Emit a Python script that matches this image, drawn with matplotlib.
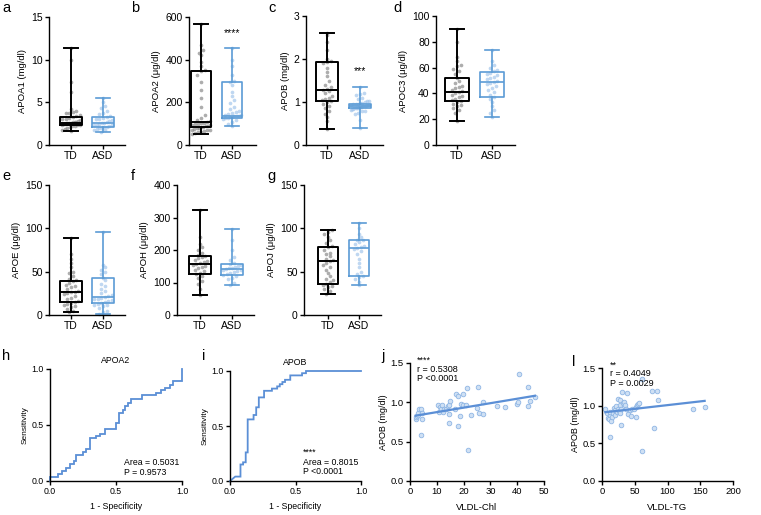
import numpy as np
import matplotlib
matplotlib.use("Agg")
import matplotlib.pyplot as plt

plt.rcParams["font.family"] = ["Liberation Sans", "DejaVu Sans"]

W, H = 761, 515
TD_EDGE = "black"
ASD_EDGE = "#5b9bd5"
TD_DOT = "#8a8a8a"
ASD_DOT = "#a4c6ec"
LINE = "#5b8fd6"

groups = ["TD", "ASD"]

# ---- box plot panels: summary stats (min, q1, median, q3, max) and points ----
apoa1_td_stats = [1.64, 2.31, 2.62, 3.33, 11.36]
apoa1_asd_stats = [1.53, 2.15, 2.62, 3.25, 5.56]
apoa1_td = [1.64, 1.8, 1.9, 2.0, 2.1, 2.2, 2.25, 2.3, 2.32, 2.4, 2.45, 2.5, 2.55, 2.6,
            2.62, 2.65, 2.7, 2.75, 2.8, 2.9, 3.0, 3.1, 3.2, 3.3, 3.35, 3.5, 3.7, 3.8,
            3.9, 4.0, 4.2, 6.2, 7.4, 10.0, 11.36]
apoa1_asd = [1.53, 1.7, 1.8, 1.9, 2.0, 2.05, 2.1, 2.15, 2.2, 2.3, 2.35, 2.4, 2.5, 2.55,
             2.62, 2.7, 2.8, 2.9, 3.0, 3.1, 3.2, 3.25, 3.4, 3.6, 3.8, 4.0, 4.3, 4.6, 5.0, 5.56]

apoa2_td_stats = [50, 83, 109, 347, 567]
apoa2_asd_stats = [90, 128, 137, 294, 453]
apoa2_td = [50, 55, 60, 62, 65, 68, 70, 72, 75, 78, 80, 83, 85, 88, 90, 92, 95, 98, 100,
            103, 105, 109, 112, 118, 125, 140, 180, 220, 260, 295, 330, 345, 350, 370,
            390, 420, 430, 445, 470, 567]
apoa2_asd = [90, 100, 110, 115, 120, 125, 128, 130, 132, 135, 137, 138, 140, 142, 145,
             150, 155, 160, 170, 180, 195, 210, 230, 250, 280, 294, 300, 330, 370, 400, 453]

apob_td_stats = [0.37, 1.02, 1.28, 1.92, 2.6]
apob_asd_stats = [0.40, 0.87, 0.91, 0.95, 1.36]
apob_td = [0.37, 0.55, 0.65, 0.72, 0.8, 0.85, 0.9, 0.95, 1.0, 1.02, 1.05, 1.08, 1.1, 1.15,
           1.2, 1.25, 1.28, 1.3, 1.35, 1.4, 1.5, 1.6, 1.7, 1.8, 1.9, 1.92, 1.95, 2.0, 2.2,
           2.4, 2.55, 2.6]
apob_asd = [0.40, 0.58, 0.71, 0.74, 0.79, 0.8, 0.82, 0.83, 0.84, 0.85, 0.86, 0.87, 0.87,
            0.88, 0.88, 0.89, 0.9, 0.9, 0.91, 0.91, 0.92, 0.92, 0.93, 0.94, 0.95, 0.95,
            0.96, 0.97, 0.98, 1.0, 1.02, 1.03, 1.07, 1.1, 1.17, 1.19, 1.2, 1.36]

apoc3_td_stats = [18.9, 34.1, 40.8, 51.7, 90]
apoc3_asd_stats = [22, 37.5, 48.6, 56.8, 73.6]
apoc3_td = [18.9, 25, 27, 29, 30, 31, 32, 33, 34, 35, 36, 37, 38, 39, 40, 41, 42, 43, 44,
            45, 46, 48, 50, 52, 55, 57, 59, 61, 62, 65, 68, 80, 90]
apoc3_asd = [22, 25, 27, 30, 33, 36, 37.5, 39, 41, 43, 44, 46, 47, 48, 49, 50, 51, 52, 53,
             54, 55, 56, 57, 58, 60, 62, 65, 73.6]

apoe_td_stats = [3, 15.4, 26.9, 39.6, 88.5]
apoe_asd_stats = [1.2, 14.2, 21.2, 42.3, 95.4]
apoe_td = [3, 5, 7, 9, 10, 12, 13, 14, 15, 16, 18, 20, 22, 24, 25, 26, 27, 28, 30, 32, 34,
           35, 37, 39, 40, 42, 45, 48, 50, 55, 60, 65, 70, 88.5]
apoe_asd = [1.2, 3, 5, 8, 10, 11, 12, 13, 14, 15, 16, 17, 18, 19, 20, 21, 22, 23, 25, 28,
            30, 33, 36, 40, 43, 47, 50, 52, 55, 58, 95.4]

apoh_td_stats = [63, 126, 157, 181, 323]
apoh_asd_stats = [93, 124, 142, 156, 264]
apoh_td = [63, 80, 95, 105, 115, 120, 125, 130, 135, 140, 145, 148, 152, 155, 158, 160,
           163, 166, 170, 175, 178, 182, 185, 190, 200, 210, 220, 240, 323]
apoh_asd = [93, 100, 110, 115, 120, 124, 127, 130, 133, 136, 138, 140, 142, 144, 146, 148,
            150, 153, 156, 160, 170, 180, 200, 230, 264]

apoj_td_stats = [23.8, 35.8, 62.7, 78, 98]
apoj_asd_stats = [34.6, 45, 76.9, 86.5, 106.5]
apoj_td = [23.8, 28, 30, 32, 34, 35, 36, 38, 40, 42, 45, 48, 52, 55, 58, 60, 62, 63, 65,
           68, 70, 72, 75, 78, 80, 83, 86, 90, 93, 96, 98]
apoj_asd = [34.6, 38, 42, 44, 45, 47, 50, 55, 60, 65, 70, 74, 76, 77, 78, 80, 82, 84, 86,
            87, 90, 94, 100, 106.5]

# ---- ROC curves (step vertices) ----
apoa2_fpr = [0.0, 0.0, 0.06, 0.06, 0.09, 0.09, 0.12, 0.12, 0.15, 0.15, 0.18, 0.18, 0.2,
             0.2, 0.25, 0.25, 0.27, 0.27, 0.3, 0.3, 0.35, 0.35, 0.38, 0.38, 0.42, 0.42,
             0.5, 0.5, 0.52, 0.52, 0.55, 0.55, 0.57, 0.57, 0.59, 0.59, 0.61, 0.61, 0.7,
             0.7, 0.8, 0.8, 0.84, 0.84, 0.87, 0.87, 0.91, 0.91, 0.93, 0.93, 1.0, 1.0]
apoa2_tpr = [0.0, 0.04, 0.04, 0.06, 0.06, 0.09, 0.09, 0.12, 0.12, 0.15, 0.15, 0.18, 0.18,
             0.23, 0.23, 0.26, 0.26, 0.29, 0.29, 0.38, 0.38, 0.4, 0.4, 0.42, 0.42, 0.46,
             0.46, 0.52, 0.52, 0.61, 0.61, 0.63, 0.63, 0.67, 0.67, 0.70, 0.70, 0.73, 0.73,
             0.77, 0.77, 0.79, 0.79, 0.81, 0.81, 0.83, 0.83, 0.86, 0.86, 0.89, 0.89, 1.0]
apob_fpr = [0.0, 0.04, 0.08, 0.08, 0.1, 0.1, 0.12, 0.12, 0.135, 0.135, 0.18, 0.18, 0.2,
            0.2, 0.22, 0.22, 0.26, 0.26, 0.32, 0.32, 0.36, 0.36, 0.38, 0.38, 0.4, 0.4,
            0.42, 0.42, 0.46, 0.46, 0.55, 0.55, 0.58, 0.58, 1.0]
apob_tpr = [0.0, 0.04, 0.04, 0.15, 0.15, 0.17, 0.17, 0.26, 0.26, 0.56, 0.56, 0.6, 0.6,
            0.67, 0.67, 0.76, 0.76, 0.82, 0.82, 0.84, 0.84, 0.86, 0.86, 0.88, 0.88, 0.9,
            0.9, 0.92, 0.92, 0.96, 0.96, 0.98, 0.98, 1.0, 1.0]

# ---- correlations with APOB ----
vldl_chl = [2.1, 2.2, 2.5, 2.9, 3.1, 3.5, 4.0, 4.4, 4.6, 4.2, 10.6, 10.9, 11.2, 11.6, 11.9,
            12.2, 12.8, 13.4, 14.1, 14.6, 14.9, 14.7, 14.7, 16.8, 17.2, 17.8, 18.0, 18.7,
            19.0, 19.7, 19.9, 20.9, 21.1, 21.5, 22.6, 24.9, 25.5, 25.9, 27.1, 27.4, 32.3,
            35.4, 40.0, 40.4, 40.8, 43.9, 44.2, 44.8, 46.6]
apob_vs_chl = [0.79, 0.81, 0.83, 0.84, 0.86, 0.91, 0.91, 0.79, 0.87, 0.58, 0.97, 0.88, 0.94,
               0.91, 0.96, 0.88, 0.91, 0.91, 0.95, 0.97, 1.02, 0.85, 0.74, 0.91, 1.10, 1.08,
               0.70, 0.82, 0.98, 1.10, 0.96, 0.96, 1.18, 0.40, 0.84, 0.93, 1.19, 0.87, 1.00,
               0.85, 0.95, 0.94, 0.98, 1.00, 1.36, 1.20, 0.95, 1.02, 1.07]
vldl_tg = [5.1, 7.6, 9.2, 10.2, 11.7, 12.7, 14.2, 15.8, 16.8, 17.8, 19.3, 20.4, 21.9, 22.9,
           24.4, 26.0, 27.0, 28.0, 29.5, 30.5, 11.7, 24.9, 27.0, 32.1, 33.6, 34.6, 37.2,
           39.7, 38.7, 29.5, 42.2, 44.8, 46.3, 48.3, 51.4, 53.4, 55.0, 56.5, 52.4, 61.6,
           61.6, 76.8, 79.4, 84.5, 85.5, 138.9, 156.7]
apob_vs_tg = [0.95, 0.90, 0.84, 0.82, 0.87, 0.92, 0.80, 0.85, 0.90, 0.97, 0.94, 0.87, 0.99,
              0.92, 0.95, 0.93, 1.01, 0.90, 0.96, 1.18, 0.59, 1.09, 1.07, 1.03, 1.05, 1.01,
              0.95, 0.89, 1.17, 0.74, 0.94, 0.86, 0.96, 0.96, 0.98, 1.01, 1.02, 1.04, 0.85,
              0.40, 1.36, 1.19, 0.71, 1.20, 1.07, 0.95, 0.98]


def px_axes(fig, left, right, top, bottom):
    return fig.add_axes([left / W, 1 - bottom / H, (right - left) / W, (bottom - top) / H])


def style(ax, lw=1.0, size=7.5):
    for s in ("top", "right"):
        ax.spines[s].set_visible(False)
    for s in ("left", "bottom"):
        ax.spines[s].set_linewidth(lw)
    ax.tick_params(direction="out", length=3, width=lw, labelsize=size, pad=1.5)


def swarm(vals, px_per_val, unit_px, bin_px=5.0, gap_px=3.6, half_px=9.0):
    # beeswarm-like horizontal offsets: points sharing a row are spread out
    vals = np.sort(np.asarray(vals, dtype=float))
    bins = np.floor(vals * px_per_val / bin_px).astype(int)
    offs = np.zeros_like(vals)
    for b in np.unique(bins):
        idx = np.where(bins == b)[0]
        k = len(idx)
        sp = gap_px
        if k > 1 and (k - 1) * sp > 2 * half_px:
            sp = 2 * half_px / (k - 1)
        order = np.arange(k) - (k - 1) / 2
        offs[idx] = order * sp / unit_px
    return offs, vals


fig = plt.figure(figsize=(W / 100, H / 100), dpi=100)

# letter, ylabel, ymax, ytick step, td/asd points, td/asd stats, star, pixel layout
box_panels = [
    ("a", "APOA1 (mg/dl)", 15, 5, apoa1_td, apoa1_asd, apoa1_td_stats, apoa1_asd_stats, None,
     (49, 125, 17, 145, 71, 103)),
    ("b", "APOA2 (μg/dl)", 600, 200, apoa2_td, apoa2_asd, apoa2_td_stats, apoa2_asd_stats,
     ("****", 525), (189, 256, 17, 145, 201, 232)),
    ("c", "APOB (mg/dl)", 3, 1, apob_td, apob_asd, apob_td_stats, apob_asd_stats,
     ("***", 1.72), (306, 383, 16, 145, 327, 360)),
    ("d", "APOC3 (μg/dl)", 100, 20, apoc3_td, apoc3_asd, apoc3_td_stats, apoc3_asd_stats, None,
     (436, 515, 16, 145, 457, 492)),
    ("e", "APOE (μg/dl)", 150, 50, apoe_td, apoe_asd, apoe_td_stats, apoe_asd_stats, None,
     (49, 125, 185, 315, 71, 103)),
    ("f", "APOH (μg/dl)", 400, 100, apoh_td, apoh_asd, apoh_td_stats, apoh_asd_stats, None,
     (177, 254, 185, 315, 200, 232)),
    ("g", "APOJ (μg/dl)", 150, 50, apoj_td, apoj_asd, apoj_td_stats, apoj_asd_stats, None,
     (304, 381, 185, 315, 328, 359)),
]
letter_pos = {"a": (2, 8), "b": (131, 8), "c": (268, 8), "d": (393, 8),
              "e": (2, 176), "f": (131, 176), "g": (267, 176),
              "h": (2, 356), "i": (202, 356), "j": (381, 356), "l": (572, 362)}

for (letter, ylab, ymax, step, td, asd, td_st, asd_st, star, lay) in box_panels:
    left, right, top, bottom, td_px, asd_px = lay
    ax = px_axes(fig, left, right, top, bottom)
    unit = asd_px - td_px
    ax.set_xlim((left - td_px) / unit, (right - td_px) / unit)
    ax.set_ylim(0, ymax)
    ppv = (bottom - top) / ymax
    for pos, vals, col in ((0, td, TD_DOT), (1, asd, ASD_DOT)):
        offs, v = swarm(vals, ppv, unit)
        ax.scatter(pos + offs, v, s=7, color=col, alpha=0.7, lw=0, zorder=1, clip_on=False)
    for pos, st, col, lw in ((0, td_st, TD_EDGE, 1.4), (1, asd_st, ASD_EDGE, 1.2)):
        stats = [dict(whislo=st[0], q1=st[1], med=st[2], q3=st[3], whishi=st[4], fliers=[])]
        props = dict(color=col, linewidth=lw)
        ax.bxp(stats, positions=[pos], widths=0.66, capwidths=0.42, showfliers=False,
               boxprops=props, whiskerprops=props, capprops=props,
               medianprops=dict(color=col, linewidth=lw), manage_ticks=False, zorder=2)
    if star:
        ax.text(1, star[1], star[0], ha="center", va="center", fontsize=7.5)
    style(ax)
    ax.set_xticks([0, 1])
    ax.set_xticklabels(groups)
    ax.set_yticks(np.arange(0, ymax + step / 2, step))
    ax.spines["left"].set_bounds(0, ymax)
    ax.set_ylabel(ylab, fontsize=6.8, labelpad=3)

# ---- ROC panels ----
roc_panels = [
    ("APOA2", apoa2_fpr, apoa2_tpr, (50, 182, 369, 481),
     [(0.557, 0.165, "Area = 0.5031"), (0.557, 0.075, "P = 0.9573")]),
    ("APOB", apob_fpr, apob_tpr, (230, 361, 371, 481),
     [(0.556, 0.257, "****"), (0.556, 0.172, "Area = 0.8015"), (0.556, 0.088, "P <0.0001")]),
]
for title, fpr, tpr, lay, notes in roc_panels:
    ax = px_axes(fig, *lay)
    ax.plot(fpr, tpr, color=LINE, lw=1.3, clip_on=False, solid_joinstyle="miter")
    ax.set_xlim(0, 1)
    ax.set_ylim(0, 1)
    style(ax, lw=1.0, size=6.3)
    ax.set_xticks([0, 0.5, 1.0])
    ax.set_yticks([0, 0.5, 1.0])
    ax.set_xticklabels(["0.0", "0.5", "1.0"])
    ax.set_yticklabels(["0.0", "0.5", "1.0"])
    ax.set_title(title, fontsize=6.3, pad=4)
    ax.set_xlabel("1 - Specificity", fontsize=6.3, labelpad=4)
    ax.set_ylabel("Sensitivity", fontsize=6.0, labelpad=2)
    for x, y, t in notes:
        ax.text(x, y, t, fontsize=6.3, ha="left", va="center")

# ---- correlation panels ----
corr_panels = [
    (vldl_chl, apob_vs_chl, "VLDL-Chl", 50, 10, (410, 544, 363, 481),
     [(2.5, 1.535, "****"), (2.5, 1.415, "r = 0.5308"), (2.5, 1.30, "P <0.0001")]),
    (vldl_tg, apob_vs_tg, "VLDL-TG", 200, 50, (602, 733, 368, 481),
     [(12.7, 1.535, "**"), (12.7, 1.425, "r = 0.4049"), (12.7, 1.30, "P = 0.0029")]),
]
for xs, ys, xlab, xmax, xstep, lay, notes in corr_panels:
    ax = px_axes(fig, *lay)
    xs = np.asarray(xs)
    ys = np.asarray(ys)
    ax.scatter(xs, ys, s=11, facecolor="#cfe0f4", edgecolor="#8fb6e4", lw=0.6, zorder=2)
    k, b = np.polyfit(xs, ys, 1)
    xx = np.array([xs.min(), xs.max()])
    ax.plot(xx, k * xx + b, color=LINE, lw=1.6, zorder=3)
    ax.set_xlim(0, xmax)
    ax.set_ylim(0, 1.5)
    style(ax, lw=1.0, size=6.8)
    ax.set_xticks(np.arange(0, xmax + 1, xstep))
    ax.set_yticks([0, 0.5, 1.0, 1.5])
    ax.set_yticklabels(["0.0", "0.5", "1.0", "1.5"])
    ax.set_xlabel(xlab, fontsize=6.8, labelpad=5)
    ax.set_ylabel("APOB (mg/dl)", fontsize=6.5, labelpad=2)
    for x, y, t in notes:
        ax.text(x, y, t, fontsize=6.5, ha="left", va="center")

for letter, (x, y) in letter_pos.items():
    fig.text(x / W, 1 - y / H, letter, fontsize=10.5, ha="left", va="center")

fig.savefig("out.png", dpi=100)
